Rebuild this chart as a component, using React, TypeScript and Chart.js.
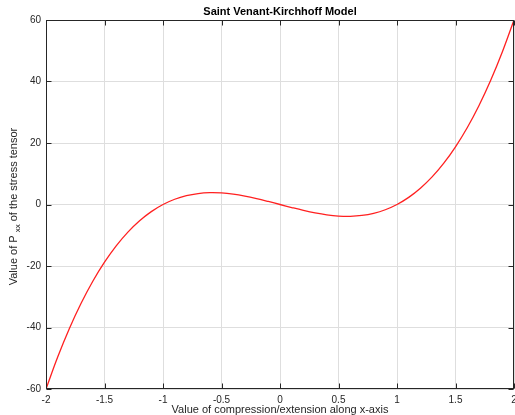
import React, { useEffect, useRef } from "react";
import { Chart, registerables } from "chart.js";

Chart.register(...registerables);

const chartTitle = "Saint Venant-Kirchhoff Model";
const xTitle = "Value of compression/extension along x-axis";
const yTitleParts = ["Value of P", "xx", " of the stress tensor"];

const xValues = [
  -2.0, -1.9, -1.8, -1.7, -1.6, -1.5, -1.4, -1.3, -1.2, -1.1, -1.0,
  -0.9, -0.8, -0.7, -0.6, -0.5, -0.4, -0.3, -0.2, -0.1, 0.0,
  0.1, 0.2, 0.3, 0.4, 0.5, 0.6, 0.7, 0.8, 0.9, 1.0,
  1.1, 1.2, 1.3, 1.4, 1.5, 1.6, 1.7, 1.8, 1.9, 2.0,
];
const pxxValues = [
  -60.0, -49.59, -40.32, -32.13, -24.96, -18.75, -13.44, -8.97, -5.28, -2.31, 0.0,
  1.71, 2.88, 3.57, 3.84, 3.75, 3.36, 2.73, 1.92, 0.99, 0.0,
  -0.99, -1.92, -2.73, -3.36, -3.75, -3.84, -3.57, -2.88, -1.71, 0.0,
  2.31, 5.28, 8.97, 13.44, 18.75, 24.96, 32.13, 40.32, 49.59, 60.0,
];
const xTicks = [-2, -1.5, -1, -0.5, 0, 0.5, 1, 1.5, 2];
const yTicks = [-60, -40, -20, 0, 20, 40, 60];

const FONT = "'Liberation Sans', Arial, Helvetica, sans-serif";
const INK = "#262626";

const boxPlugin = {
  id: "matlabBox",
  afterDraw(chart: any) {
    const { ctx, chartArea: a, scales } = chart;
    const xs = scales.x;
    const ys = scales.y;
    ctx.save();
    ctx.strokeStyle = INK;
    ctx.lineWidth = 1;
    const L = Math.round(a.left) + 0.5;
    const R = Math.round(a.right) - 0.5;
    const T = Math.round(a.top) + 0.5;
    const B = Math.round(a.bottom) - 0.5;
    ctx.strokeRect(L, T, R - L, B - T);
    const tl = 5;
    ctx.beginPath();
    xs.ticks.forEach((t: any) => {
      const px = Math.round(xs.getPixelForValue(t.value)) + 0.5;
      ctx.moveTo(px, B);
      ctx.lineTo(px, B - tl);
      ctx.moveTo(px, T);
      ctx.lineTo(px, T + tl);
    });
    ys.ticks.forEach((t: any) => {
      const py = Math.round(ys.getPixelForValue(t.value)) + 0.5;
      ctx.moveTo(L, py);
      ctx.lineTo(L + tl, py);
      ctx.moveTo(R, py);
      ctx.lineTo(R - tl, py);
    });
    ctx.stroke();

    // y-axis title with subscript
    const cx = 13.5;
    const cy = (a.top + a.bottom) / 2 + 2;
    ctx.translate(cx, cy);
    ctx.rotate(-Math.PI / 2);
    ctx.fillStyle = INK;
    ctx.textBaseline = "middle";
    ctx.textAlign = "left";
    const mainFont = `11px ${FONT}`;
    const subFont = `8px ${FONT}`;
    ctx.font = mainFont;
    const w1 = ctx.measureText(yTitleParts[0]).width;
    const w3 = ctx.measureText(yTitleParts[2]).width;
    ctx.font = subFont;
    const w2 = ctx.measureText(yTitleParts[1]).width;
    const gap = 3;
    const total = w1 + gap + w2 + w3;
    let x0 = -total / 2;
    ctx.font = mainFont;
    ctx.fillText(yTitleParts[0], x0, 0);
    x0 += w1 + gap;
    ctx.font = subFont;
    ctx.fillText(yTitleParts[1], x0, 4);
    x0 += w2;
    ctx.font = mainFont;
    ctx.fillText(yTitleParts[2], x0, 0);
    ctx.restore();
  },
};

export default function App() {
  const ref = useRef<HTMLCanvasElement>(null);
  useEffect(() => {
    document.body.style.margin = "0";
    const canvas = ref.current!;
    const chart = new Chart(canvas, {
      type: "line",
      data: {
        datasets: [
          {
            data: xValues.map((x, i) => ({ x, y: pxxValues[i] })),
            borderColor: "#ff2020",
            borderWidth: 1.3,
            pointRadius: 0,
            tension: 0.4,
            fill: false,
          },
        ],
      },
      options: {
        responsive: false,
        animation: false,
        devicePixelRatio: 1,
        layout: { padding: { top: 0, right: 1, left: 0, bottom: 0 } },
        plugins: {
          legend: { display: false },
          tooltip: { enabled: false },
          title: {
            display: true,
            text: chartTitle,
            fullSize: false,
            color: "#000",
            font: { family: FONT, size: 11, weight: "bold", lineHeight: 1.2 },
            padding: { top: 5, bottom: 1.8 },
          },
        },
        scales: {
          x: {
            type: "linear",
            min: -2,
            max: 2,
            afterBuildTicks: (s: any) => {
              s.ticks = xTicks.map((v) => ({ value: v }));
            },
            afterFit: (s: any) => {
              s.height = 26;
              s.paddingLeft = 0;
              s.paddingRight = 0;
            },
            grid: { color: "#dedede", drawTicks: false },
            border: { display: false },
            ticks: {
              autoSkip: false,
              maxRotation: 0,
              padding: 5,
              color: INK,
              font: { family: FONT, size: 10 },
              callback: (v: any) => String(v),
            },
            title: {
              display: true,
              text: xTitle,
              color: INK,
              font: { family: FONT, size: 11, lineHeight: 1.2 },
              padding: { top: 0, bottom: -2 },
            },
          },
          y: {
            type: "linear",
            min: -60,
            max: 60,
            afterBuildTicks: (s: any) => {
              s.ticks = yTicks.map((v) => ({ value: v }));
            },
            afterFit: (s: any) => {
              s.width = 46;
              s.paddingTop = 0;
              s.paddingBottom = 0;
            },
            grid: { color: "#dedede", drawTicks: false },
            border: { display: false },
            ticks: {
              autoSkip: false,
              padding: 5,
              color: INK,
              font: { family: FONT, size: 10 },
              callback: (v: any) => String(v),
            },
          },
        },
      },
      plugins: [boxPlugin],
    });
    return () => chart.destroy();
  }, []);
  return (
    <div style={{ position: "absolute", left: 0, top: 0, width: 515, height: 415 }}>
      <canvas ref={ref} width={515} height={415} />
    </div>
  );
}
